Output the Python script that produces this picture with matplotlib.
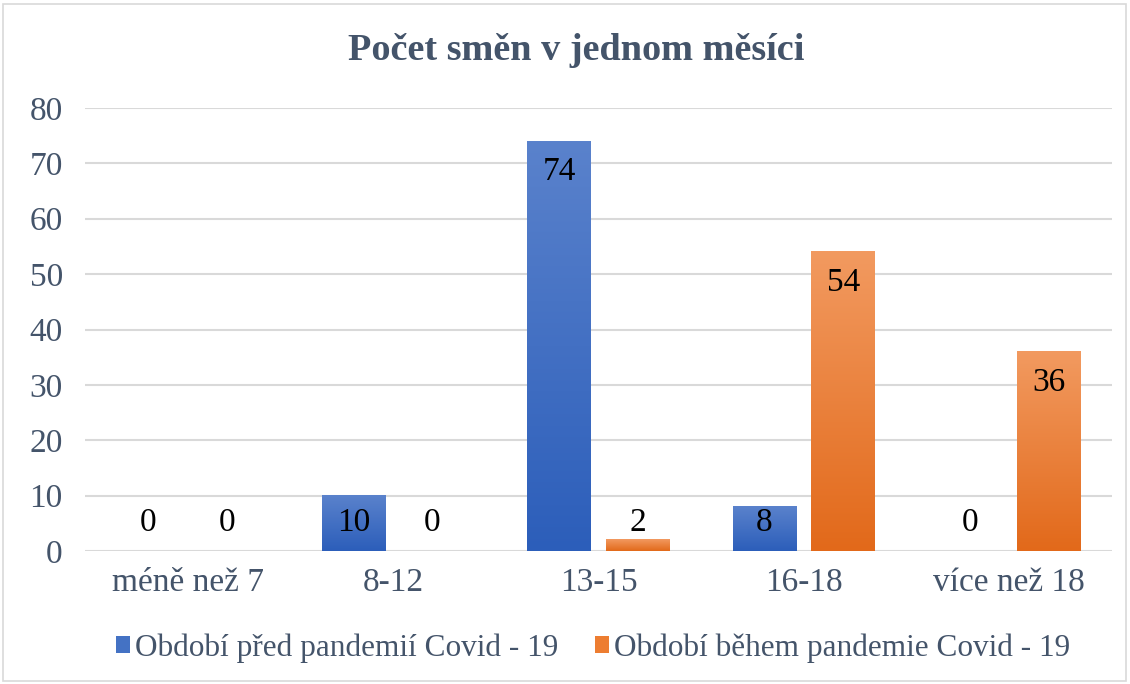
import matplotlib
matplotlib.use("Agg")
import matplotlib.pyplot as plt
import numpy as np
from matplotlib.colors import LinearSegmentedColormap
from matplotlib.patches import Rectangle, Patch

categories = ["méně než 7", "8-12", "13-15", "16-18", "více než 18"]
series_names = ["Období před pandemií Covid - 19", "Období během pandemie Covid - 19"]
before = [0, 10, 74, 8, 0]
during = [0, 0, 2, 54, 36]
title = "Počet směn v jednom měsíci"

plt.rcParams['font.family'] = ['Liberation Serif', 'DejaVu Serif']
txt = '#44546A'

fig = plt.figure(figsize=(11.3, 6.84), dpi=100)
ax = fig.add_axes([85/1130, 1-551/684, (1112-85)/1130, (551-108)/684])

x = np.arange(len(categories))
w = 0.311
off = 0.192
grads = [("#5A82CC", "#2C5EBA"), ("#F29A60", "#E2691A")]
flat = ["#4472C4", "#ED7D31"]
for vals, sgn, (top, bot) in zip([before, during], [-1, 1], grads):
    bars = ax.bar(x + sgn*off, vals, w, color='none', zorder=3)
    cmap = LinearSegmentedColormap.from_list('g', [bot, top])
    for b, v in zip(bars, vals):
        if v > 0:
            bx, by = b.get_x(), b.get_y()
            bw, bh = b.get_width(), b.get_height()
            grad = np.linspace(0, 1, 256).reshape(-1, 1)
            ax.imshow(grad, extent=[bx, bx+bw, by, by+bh], origin='lower',
                      cmap=cmap, aspect='auto', zorder=3)
        ax.text(b.get_x()+b.get_width()/2, max(v-5.6, 5.1), str(v),
                ha='center', va='center', fontsize=24, color='black', zorder=4)

ax.set_xlim(-0.5, len(categories)-0.5)
ax.set_ylim(0, 80)
ax.set_yticks(range(0, 81, 10))
ax.set_xticks(x)
ax.set_xticklabels(categories)
ax.tick_params(axis='both', length=0, labelsize=24, labelcolor=txt)
ax.tick_params(axis='y', pad=16)
ax.tick_params(axis='x', pad=12)
ax.grid(axis='y', color='#D9D9D9', linewidth=1.5, zorder=0)
ax.set_axisbelow(True)
for s in ax.spines.values():
    s.set_visible(False)

fig.text(576/1130, 1-51/684, title, ha='center', va='center', fontsize=27.5,
         fontweight='bold', color=txt)

handles = [Patch(facecolor=flat[0]), Patch(facecolor=flat[1])]
fig.legend(handles, series_names, loc='center', bbox_to_anchor=(593/1130, 1-648/684),
           ncol=2, frameon=False, fontsize=22.5, labelcolor=txt,
           handlelength=0.45, handleheight=0.45, handletextpad=0.15, columnspacing=1.2)

fig.patches.append(Rectangle((3/1130, 0.004), 1-7/1130, 0.99, transform=fig.transFigure,
                             fill=False, edgecolor='#D9D9D9', linewidth=1.2))

fig.savefig("out.png", dpi=100)
